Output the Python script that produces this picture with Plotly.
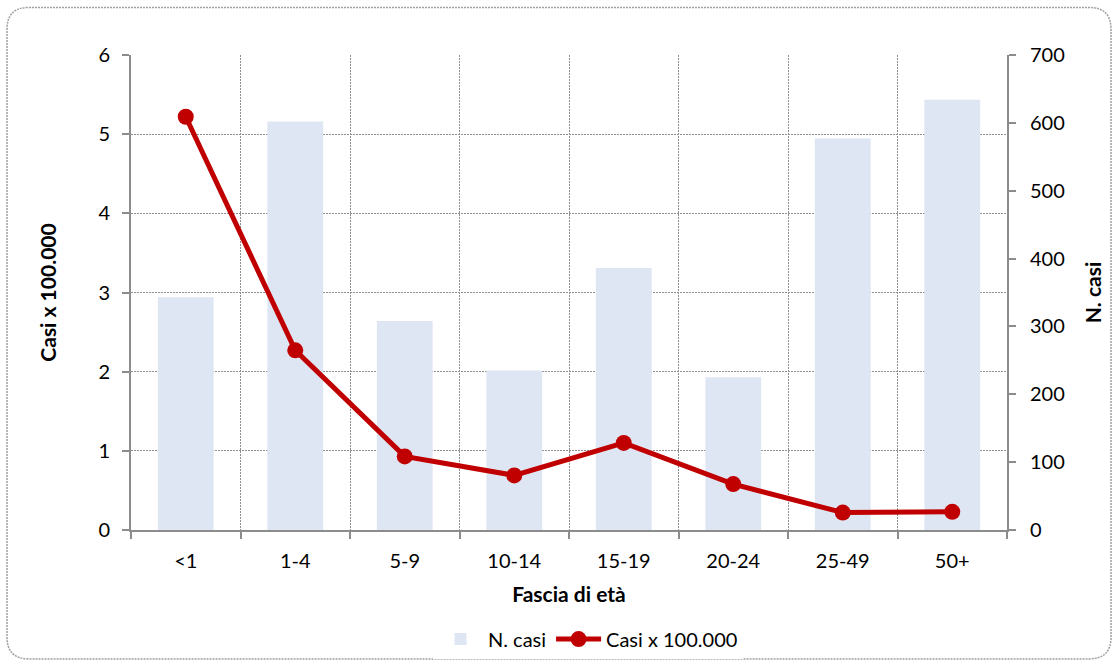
import plotly.graph_objects as go

categories = ["<1", "1-4", "5-9", "10-14", "15-19", "20-24", "25-49", "50+"]
n_casi = [343, 602, 308, 235, 386, 225, 577, 634]
casi_x_100000 = [5.22, 2.27, 0.93, 0.69, 1.10, 0.58, 0.22, 0.23]

FONT = "Lato"
W, H = 1117, 671
L, R, T, B = 131, 1007, 55, 534

fig = go.Figure()
# bars on the (right-side) base axis, line on the overlaying left axis so it is drawn on top
fig.add_trace(go.Bar(
    x=categories, y=n_casi, name="N. casi", yaxis="y",
    marker=dict(color="#dfe6f3", line=dict(width=0)),
))
fig.add_trace(go.Scatter(
    x=categories, y=casi_x_100000, name="Casi x 100.000", yaxis="y2",
    mode="lines+markers",
    line=dict(color="#c00000", width=5),
    marker=dict(color="#c00000", size=16),
))

def px_x(p):
    return (p - L) / (R - L)

def px_y(p):
    return (B - p) / (B - T)

x0, x1, y0, y1, r = 7, 1111, 7, 664, 22
path = (
    f"M {px_x(x0+r)},{px_y(y0)} L {px_x(x1-r)},{px_y(y0)} "
    f"Q {px_x(x1)},{px_y(y0)} {px_x(x1)},{px_y(y0+r)} "
    f"L {px_x(x1)},{px_y(y1-r)} Q {px_x(x1)},{px_y(y1)} {px_x(x1-r)},{px_y(y1)} "
    f"L {px_x(x0+r)},{px_y(y1)} Q {px_x(x0)},{px_y(y1)} {px_x(x0)},{px_y(y1-r)} "
    f"L {px_x(x0)},{px_y(y0+r)} Q {px_x(x0)},{px_y(y0)} {px_x(x0+r)},{px_y(y0)} Z"
)

axis_common = dict(ticks="outside", ticklen=7, tickcolor="#8c8c8c", tickwidth=2,
                   showline=True, linecolor="#8c8c8c", linewidth=2, zeroline=False,
                   tickfont=dict(size=20))
grid = dict(showgrid=True, gridcolor="#8f8f8f", griddash="2px,1px", gridwidth=1)

fig.update_layout(
    width=W, height=H,
    margin=dict(l=L, r=W - R, t=T, b=H - B),
    paper_bgcolor="white", plot_bgcolor="white",
    font=dict(family=FONT, size=20, color="#000000"),
    bargap=0.49,
    showlegend=True,
    legend=dict(orientation="h", x=px_x(588), xanchor="center", y=px_y(644), yanchor="middle",
                font=dict(size=20), itemwidth=45, traceorder="normal"),
    xaxis=dict(
        title=dict(text="<b>Fascia di età</b>", font=dict(size=21), standoff=16),
        tickson="boundaries", ticklabelstandoff=12,
        **grid, **axis_common,
    ),
    yaxis=dict(
        title=dict(text="<b>N. casi</b>", font=dict(size=21), standoff=22),
        range=[0, 700], dtick=100, side="right", showgrid=False, ticklabelstandoff=10,
        **axis_common,
    ),
    yaxis2=dict(
        title=dict(text="<b>Casi x 100.000</b>", font=dict(size=21), standoff=36),
        range=[0, 6], dtick=1, side="left", overlaying="y", ticklabelstandoff=8,
        **grid, **axis_common,
    ),
    shapes=[dict(type="path", xref="paper", yref="paper", path=path,
                 line=dict(color="#a0a0a0", width=1.5, dash="2px,1px"), fillcolor="rgba(0,0,0,0)",
                 layer="below")],
)

fig.write_html("out.html", config={"displayModeBar": False},
               post_script="document.body.style.margin='0';")
